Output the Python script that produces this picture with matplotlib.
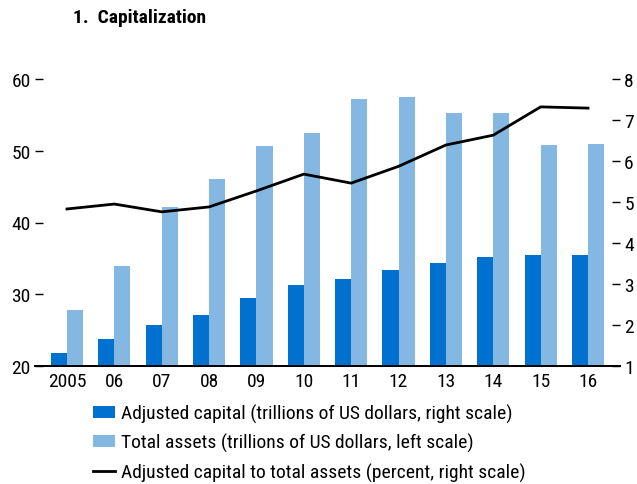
import numpy as np
import matplotlib
matplotlib.use('Agg')
import matplotlib.pyplot as plt
from matplotlib import font_manager
from matplotlib.patches import Patch
from matplotlib.lines import Line2D

# Daten
years = ['2005', '06', '07', '08', '09', '10', '11', '12', '13', '14', '15', '16']
adjusted_capital = [1.32, 1.66, 2.00, 2.24, 2.66, 2.97, 3.12, 3.34, 3.51, 3.66, 3.71, 3.71]
total_assets = [27.8, 33.9, 42.2, 46.1, 50.7, 52.5, 57.2, 57.5, 55.3, 55.3, 50.8, 50.9]
capital_ratio = [4.83, 4.95, 4.76, 4.88, 5.27, 5.68, 5.46, 5.87, 6.39, 6.63, 7.32, 7.29]

dark_blue = '#0071CE'
light_blue = '#84B8E3'

# schmale Schrift, falls vorhanden
installed = {f.name for f in font_manager.fontManager.ttflist}
narrow = [n for n in ['Roboto Condensed', 'Liberation Sans Narrow', 'Open Sans Condensed']
          if n in installed]
condensed = bool(narrow)
plt.rcParams['font.family'] = narrow + ['Roboto', 'DejaVu Sans']

fs = 14 if condensed else 13

fig = plt.figure(figsize=(6.37, 4.85), dpi=100)
ax = fig.add_axes([35 / 637, 1 - 367 / 485, 585 / 637, 287 / 485])
ax2 = ax.twinx()

x = np.arange(len(years))
w = 0.34

# Balken: Gesamtvermögen links, Kapital rechts
ax.bar(x + w / 2, total_assets, width=w, color=light_blue, zorder=2)
ax2.bar(x - w / 2, adjusted_capital, width=w, color=dark_blue, zorder=2)
ax2.plot(x, capital_ratio, color='black', lw=2.0, zorder=3)

ax.set_xlim(-0.675, 11.675)
ax.set_ylim(20, 60)
ax2.set_ylim(1, 8)
ax.set_yticks([20, 30, 40, 50, 60])
ax2.set_yticks(range(1, 9))
ax.set_xticks(x)
ax.set_xticklabels(years)

for a in (ax, ax2):
    for s in ('top', 'left', 'right'):
        a.spines[s].set_visible(False)
    a.spines['bottom'].set_linewidth(1.3)

ax.tick_params(axis='y', direction='in', length=6, width=1, pad=3, labelsize=fs)
ax2.tick_params(axis='y', direction='in', length=6, width=1, pad=3, labelsize=fs)
ax.tick_params(axis='x', direction='in', length=4, width=1, pad=4, labelsize=fs)

fig.text(73 / 637, 1 - 18 / 485, '1.  Capitalization', fontsize=fs, fontweight='bold',
         va='center', ha='left')

handles = [
    Patch(facecolor=dark_blue),
    Patch(facecolor=light_blue),
    Line2D([], [], color='black', lw=2.0),
]
labels = [
    'Adjusted capital (trillions of US dollars, right scale)',
    'Total assets (trillions of US dollars, left scale)',
    'Adjusted capital to total assets (percent, right scale)',
]
fig.legend(handles, labels, loc='upper left', bbox_to_anchor=(93 / 637, 1 - 405 / 485),
           frameon=False, fontsize=fs, handlelength=1.15, handleheight=0.55,
           handletextpad=0.3, labelspacing=0.52, borderpad=0, borderaxespad=0)

fig.savefig('out.png', dpi=100)
